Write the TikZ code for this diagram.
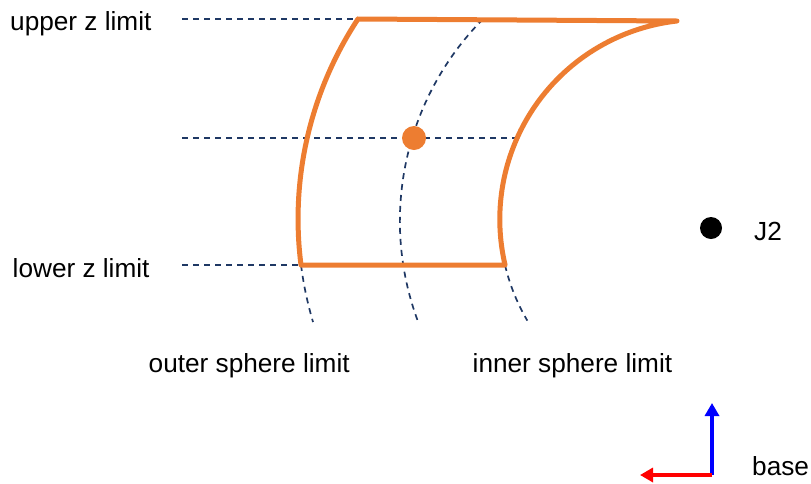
\documentclass[tikz,border=0pt]{standalone}
\usepackage{fontspec}
\setmainfont{Liberation Sans}
\usetikzlibrary{arrows.meta}
\definecolor{orng}{HTML}{ED7D31}
\definecolor{navy}{HTML}{1F3864}
\begin{document}
\begin{tikzpicture}[x=1pt,y=-1pt,
  lbl/.style={font=\fontsize{26.2}{30}\selectfont, inner sep=0pt, anchor=base west},
  guide/.style={draw=navy, line width=1.7pt, dash pattern=on 6pt off 5pt},
  edgeline/.style={draw=orng, line width=5pt, line join=round},
  axis/.style={line width=4pt, -{Triangle[length=13pt,width=14pt]}},
  dot/.style={circle, inner sep=0pt}]
\useasboundingbox (0,0) rectangle (811,483);
% corners of the orange region
\coordinate (TL) at (358,19);
\coordinate (TR) at (677,21);
\coordinate (BL) at (301,265);
\coordinate (BR) at (505,265);
\coordinate (MT) at (483,19);
\coordinate (IM) at (517.1,138);
% guide starts
\coordinate (GU) at (182,19);
\coordinate (GM) at (182,138);
\coordinate (GL) at (182,265);
% dashed guides
\draw[guide] (GU) -- (TL);
\draw[guide] (GM) -- (IM);
\draw[guide] (GL) -- (BL);
\draw[guide] (MT) arc[start angle=224.7, end angle=159.5, radius=287.4];
\draw[guide] (BL) arc[start angle=172.7, end angle=163.5, radius=363.3];
\draw[guide] (BR) arc[start angle=166.77, end angle=149.5, radius=199.6];
% orange region
\draw[edgeline] (TL) -- (TR) arc[start angle=263.56, end angle=166.77, radius=199.6]
  -- (BL) arc[start angle=172.7, end angle=213.4, radius=363.3] -- cycle;
% points
\node[dot, fill=orng, minimum size=24pt] (P) at (414,138) {};
\node[dot, fill=black, minimum size=22pt] (J) at (711,228) {};
% labels
\node[lbl] (up) at (10,30) {upper z limit};
\node[lbl] (lo) at (12.5,277) {lower z limit};
\node[lbl] (out) at (148.5,372) {outer sphere limit};
\node[lbl] (inn) at (472.5,372) {inner sphere limit};
\node[lbl] (j2l) at (754,240) {J2};
\node[lbl] (bs) at (752,475) {base};
% base frame
\coordinate (O) at (712,475);
\coordinate (Y) at (712,403);
\coordinate (X) at (640,475);
\draw[axis, blue] (O) -- (Y);
\draw[axis, red] (O) -- (X);
\end{tikzpicture}
\end{document}
